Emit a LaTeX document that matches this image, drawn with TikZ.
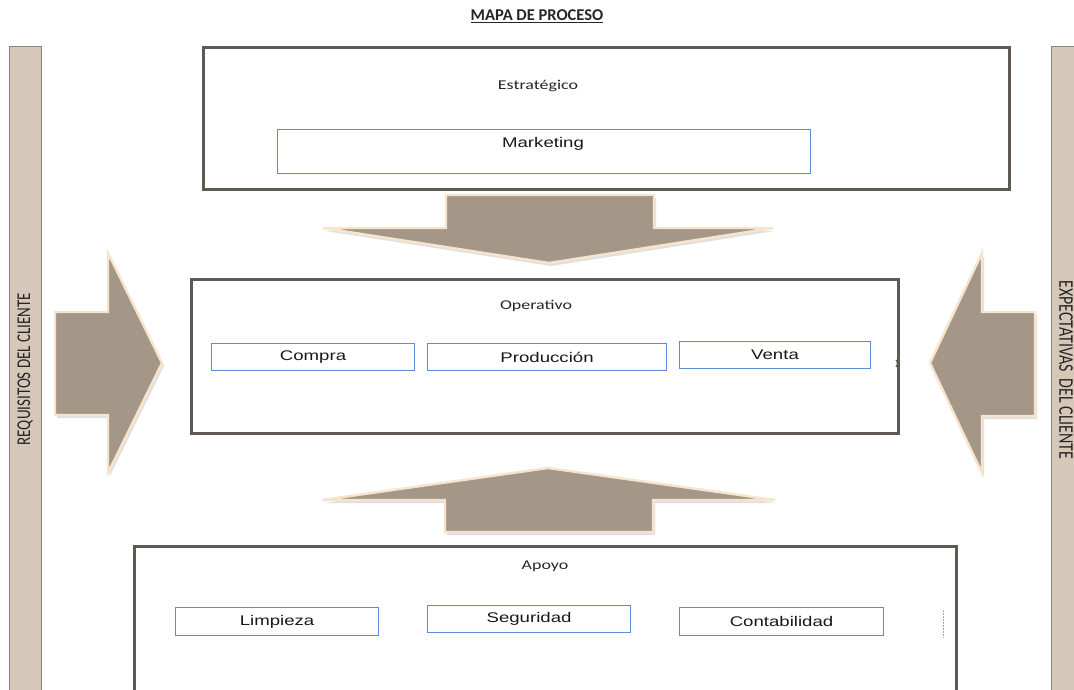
\documentclass[tikz,border=0pt]{standalone}
\usepackage{fontspec}
\setmainfont{Liberation Sans}
\newfontfamily\itemfont[FakeStretch=1.33]{Liberation Sans}
\newfontfamily\headfont[FakeStretch=1.33]{Carlito}
\newfontfamily\titlefont{Carlito}
\newfontfamily\sidefont{Carlito}
\definecolor{barfill}{RGB}{214,200,184}
\definecolor{barline}{RGB}{140,130,122}
\definecolor{boxline}{RGB}{95,89,83}
\definecolor{itemline}{RGB}{91,141,212}
\definecolor{arrowfill}{RGB}{164,151,136}
\definecolor{arrowedge}{RGB}{247,228,204}
\begin{document}
\begin{tikzpicture}[x=1pt,y=-1pt,
  sidebar/.style={draw=barline, fill=barfill, line width=1.2pt, inner sep=0pt, anchor=north west},
  sidetext/.style={text=black!85, inner sep=0pt},
  procbox/.style={draw=boxline, line width=2.8pt, fill=white, inner sep=0pt, anchor=north west},
  itembox/.style={draw=itemline, line width=1.1pt, fill=white, inner sep=0pt, anchor=north west},
  itemtext/.style={font=\itemfont\fontsize{14}{16}\selectfont, text=black!90, inner sep=0pt},
  headtext/.style={font=\headfont\fontsize{13.5}{15}\selectfont, text=black!85, inner sep=0pt},
  bigarrow/.style={fill=arrowfill, draw=arrowedge, line width=2.4pt, line join=miter},
  arrowshadow/.style={fill=black, opacity=0.12, draw=none}]
\useasboundingbox (0,0) rectangle (1074,690);
\clip (0,0) rectangle (1074,690);

% title
\node[font=\titlefont\bfseries\fontsize{16.5}{18}\selectfont, text=black!85, inner sep=0pt] (title) at (537,16) {\underline{MAPA DE PROCESO}};

% customer side bars
\node[sidebar, minimum width=32pt, minimum height=670pt] (reqbar) at (9,46) {};
\node[sidebar, minimum width=40pt, minimum height=670pt] (expbar) at (1051,46) {};
\node[sidetext, rotate=90, font=\sidefont\fontsize{15}{17}\selectfont] (reqtext) at (25,369) {\scalebox{1}[1.3]{REQUISITOS DEL CLIENTE}};
\node[sidetext, rotate=-90, font=\sidefont\fontsize{16}{18}\selectfont] (exptext) at (1066,370) {\scalebox{1}[1.3]{EXPECTATIVAS\ \,DEL CLIENTE}};

% process levels
\node[procbox, minimum width=806pt, minimum height=142pt] (estr) at (202,46) {};
\node[headtext] (estrlabel) at (538,86) {Estratégico};
\node[itembox, minimum width=533pt, minimum height=44pt] (mkt) at (277,129) {};
\node[itemtext] (mktlabel) at (543,144) {Marketing};

\node[procbox, minimum width=707pt, minimum height=154pt] (oper) at (190,278) {};
\node[headtext] (operlabel) at (536,306) {Operativo};
\node[itembox, minimum width=203pt, minimum height=27pt] (compra) at (211,343) {};
\node[itemtext] at (compra.center) {Compra};
\node[itembox, minimum width=239pt, minimum height=27pt] (prod) at (427,343) {};
\node[itemtext] at (prod.center) {Producción};
\node[itembox, minimum width=191pt, minimum height=27pt] (venta) at (679,341) {};
\node[itemtext] at (venta.center) {Venta};
\draw[boxline, line width=1.2pt] (896,367) arc (-60:60:3pt and 4pt);

\node[procbox, minimum width=822pt, minimum height=170pt] (apoyo) at (133,545) {};
\node[headtext] (apoyolabel) at (545,566) {Apoyo};
\node[itembox, minimum width=203pt, minimum height=28pt] (limp) at (175,607) {};
\node[itemtext] at (limp.center) {Limpieza};
\node[itembox, minimum width=203pt, minimum height=27pt] (seg) at (427,605) {};
\node[itemtext] at (seg.center) {Seguridad};
\node[itembox, minimum width=204pt, minimum height=28pt] (cont) at (679,607) {};
\node[itemtext] at (cont.center) {Contabilidad};
\draw[black!35, dash pattern=on 2pt off 1pt, line width=0.6pt] (943,610) -- (943,638);

% block arrows between levels
\begin{scope}[shift={(2,3)}]
  \fill[arrowshadow] (446,195) -- (654,195) -- (654,228) -- (773,228) -- (549,263) -- (323,228) -- (446,228) -- cycle;
  \fill[arrowshadow] (548,468) -- (775,500) -- (653,500) -- (653,532) -- (445,532) -- (445,500) -- (322,500) -- cycle;
  \fill[arrowshadow] (55,312) -- (108,312) -- (108,253) -- (162,363) -- (108,473) -- (108,415) -- (55,415) -- cycle;
  \fill[arrowshadow] (1035,312) -- (982,312) -- (982,253) -- (930,363) -- (982,473) -- (982,416) -- (1035,416) -- cycle;
\end{scope}
\draw[bigarrow] (446,195) -- (654,195) -- (654,228) -- (773,228) -- (549,263) -- (323,228) -- (446,228) -- cycle;
\draw[bigarrow] (548,468) -- (775,500) -- (653,500) -- (653,532) -- (445,532) -- (445,500) -- (322,500) -- cycle;
\draw[bigarrow] (55,312) -- (108,312) -- (108,253) -- (162,363) -- (108,473) -- (108,415) -- (55,415) -- cycle;
\draw[bigarrow] (1035,312) -- (982,312) -- (982,253) -- (930,363) -- (982,473) -- (982,416) -- (1035,416) -- cycle;
\end{tikzpicture}
\end{document}
